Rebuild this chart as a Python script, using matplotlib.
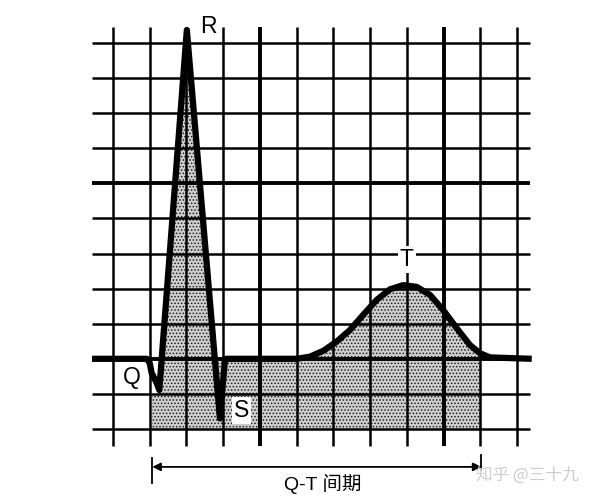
import matplotlib
matplotlib.use('Agg')
import matplotlib.pyplot as plt
import numpy as np

plt.rcParams['font.family'] = ['Liberation Sans', 'Noto Sans CJK SC', 'DejaVu Sans']
plt.rcParams['hatch.linewidth'] = 0.7

# ---- data (grid units: 1 small square; baseline = 0) ----
grid_x = list(range(0, 12))          # vertical grid lines
grid_y = list(range(-2, 10))         # horizontal grid lines
thick_x = [4, 9]
thick_y = [0, 5]

ecg_x = [-0.57, 0.92, 1.00, 1.05, 1.19, 1.26, 2.01, 2.91, 3.05, 5.00, 5.36, 5.73,
         6.09, 6.45, 6.81, 7.18, 7.54, 7.90, 8.27, 8.63, 8.99, 9.36, 9.72, 9.99,
         10.26, 11.40]
ecg_y = [0.0, 0.0, -0.12, -0.40, -0.69, -0.89, 9.37, -1.70, 0.0, 0.0, 0.06, 0.23,
         0.49, 0.82, 1.25, 1.68, 1.98, 2.10, 2.05, 1.82, 1.39, 0.87, 0.39, 0.16,
         0.04, 0.0]

qt_start, qt_end = 1.07, 10.03
labels = ['R', 'Q', 'S', 'T']
label_x = [2.59, 0.51, 3.50, 8.0]
label_y = [9.46, -0.53, -1.48, 2.82]

fig = plt.figure(figsize=(6, 4.99), dpi=100)
ax = fig.add_axes([0, 0, 1, 1])
ax.set_xlim(-3.077, 13.259)
ax.set_ylim(-3.995, 10.225)
ax.axis('off')

x = np.array(ecg_x)
y = np.array(ecg_y)

# ---- shading ----
shade = dict(facecolor='#cfcfcf', edgecolor='#1e1e1e', hatch='.....', linewidth=0, zorder=1)
ax.fill_between([qt_start, qt_end], -2, -1, **shade)
ax.fill_between([1.26, qt_end], -1, 0, **shade)
ax.fill_between(x, 0, y, where=(y > 0) & (x <= qt_end), interpolate=True, **shade)

# ---- grid ----
for gx in grid_x:
    ax.plot([gx, gx], [-2.48, 9.46], color='black',
            lw=2.8 if gx in thick_x else 1.8, zorder=2, solid_capstyle='butt')
for gy in grid_y:
    ax.plot([-0.57, 11.35], [gy, gy], color='black',
            lw=2.8 if gy in thick_y else 1.8, zorder=2, solid_capstyle='butt')

# ---- ECG trace ----
ax.plot(x, y, color='black', lw=4.5, zorder=4, solid_joinstyle='round',
        solid_capstyle='butt')

# ---- labels ----
for t, lx, ly in zip(labels, label_x, label_y):
    bbox = None
    if t in ('T', 'S'):
        bbox = dict(facecolor='white', edgecolor='none', pad=1.5)
    ax.text(lx, ly, t, fontsize=16.5, ha='center', va='center', zorder=5, bbox=bbox)

# ---- Q-T interval arrow ----
ax.annotate('', xy=(qt_start, -3.08), xytext=(qt_end, -3.08),
            arrowprops=dict(arrowstyle='<|-|>', color='black', lw=1.3,
                            mutation_scale=12, shrinkA=0, shrinkB=0), zorder=4)
ax.plot([qt_start, qt_start], [-2.83, -3.54], color='black', lw=1.3, zorder=4)
ax.plot([qt_end, qt_end], [-2.75, -3.15], color='black', lw=1.3, zorder=4)
ax.text(5.72, -3.57, 'Q-T 间期', fontsize=14, ha='center', va='center',
        family=['Liberation Sans', 'Noto Sans CJK SC'], zorder=5)

# watermark
ax.text(11.27, -3.31, '知乎 @三十九', fontsize=12, ha='center', va='center',
        color='#cdcdcd', family=['Noto Sans CJK SC', 'DejaVu Sans'], zorder=6)

fig.savefig('out.png', dpi=100)
